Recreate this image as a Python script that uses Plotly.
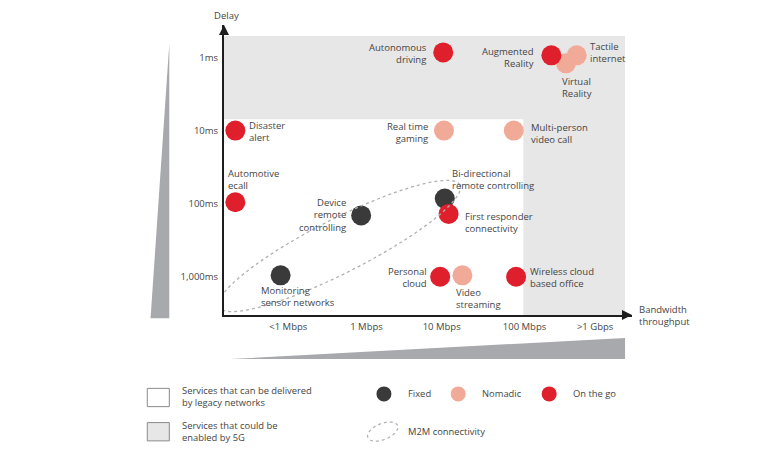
import numpy as np
import plotly.graph_objects as go

# ---------------- data ----------------
services = ["Autonomous driving", "Augmented Reality", "Tactile internet", "Virtual Reality",
            "Disaster alert", "Real time gaming", "Multi-person video call", "Automotive ecall",
            "Device remote controlling", "Bi-directional remote controlling",
            "First responder connectivity", "Monitoring sensor networks", "Personal cloud",
            "Video streaming", "Wireless cloud based office"]
labels = ["Autonomous<br>driving", "Augmented<br>Reality", "Tactile<br>internet", "Virtual<br>Reality",
          "Disaster<br>alert", "Real time<br>gaming", "Multi-person<br>video call", "Automotive<br>ecall",
          "Device<br>remote<br>controlling", "Bi-directional<br>remote controlling",
          "First responder<br>connectivity", "Monitoring<br>sensor networks", "Personal<br>cloud",
          "Video<br>streaming", "Wireless cloud<br>based office"]
# bandwidth on a log-decade index (0 = <1 Mbps ... 4 = >1 Gbps)
bandwidth = [2.02, 3.43, 3.76, 3.62, -0.69, 2.03, 2.94, -0.69, 0.95, 2.04, 2.09, -0.10, 1.98, 2.27, 2.97]
# delay on a log-decade index (0 = 1 ms ... 3 = 1,000 ms)
delay = [-0.07, -0.03, -0.03, 0.08, 1.0, 1.0, 1.0, 1.98, 2.16, 1.93, 2.14, 2.98, 3.0, 2.98, 3.0]
mobility = ["On the go", "On the go", "Nomadic", "Nomadic", "On the go", "Nomadic", "Nomadic",
            "On the go", "Fixed", "Fixed", "On the go", "Fixed", "On the go", "Nomadic", "On the go"]

x_tick_labels = ["<1 Mbps", "1 Mbps", "10 Mbps", "100 Mbps", ">1 Gbps"]
x_tick_pos = [0, 1.02, 2.0, 3.08, 4.0]
y_tick_labels = ["1ms", "10ms", "100ms", "1,000ms"]
y_tick_pos = [0, 1, 2, 3]

# 5G zone boundaries (index units)
zone_delay_limit = 0.845
zone_bandwidth_limit = 3.064

# ---------------- styles ----------------
colors = {"Fixed": "#3a3a3a", "Nomadic": "#f2aa98", "On the go": "#e01f2d"}
FONT = "Open Sans"
TXT = "#454545"
XR = [-0.838, 4.481]
YR = [3.523, -0.445]

# label placement: (xanchor, xshift, yshift)
label_pos = {
    "Autonomous driving": ("right", -14, -1), "Augmented Reality": ("right", -15, -2),
    "Tactile internet": ("left", 11, 3), "Virtual Reality": ("left", -6, -24),
    "Disaster alert": ("left", 12, -1), "Real time gaming": ("right", -14, -2),
    "Multi-person video call": ("left", 15, -3), "Automotive ecall": ("left", -9, 23),
    "Device remote controlling": ("right", -13, 0), "Bi-directional remote controlling": ("left", 5, 19),
    "First responder connectivity": ("left", 14, -9), "Monitoring sensor networks": ("left", -22, -21),
    "Personal cloud": ("right", -11, -1), "Video streaming": ("left", -8, -23),
    "Wireless cloud based office": ("left", 12, -1),
}

fig = go.Figure()

for cat in ["Nomadic", "Fixed", "On the go"]:
    idx = [i for i, m in enumerate(mobility) if m == cat]
    fig.add_trace(go.Scatter(
        x=[bandwidth[i] for i in idx], y=[delay[i] for i in idx],
        mode="markers", name=cat, text=[services[i] for i in idx],
        marker=dict(size=20, color=colors[cat], line=dict(width=0)),
        hovertemplate="%{text}<extra></extra>", showlegend=False))

annotations = []
for s, lab, bx, dy in zip(services, labels, bandwidth, delay):
    xa, xs, ys = label_pos[s]
    annotations.append(dict(x=bx, y=dy, xref="x", yref="y", text=lab, showarrow=False,
                            xanchor=xa, yanchor="middle", xshift=xs, yshift=ys, align=xa,
                            font=dict(family=FONT, size=9.5, color=TXT)))


def ellipse_path(a, b, theta_deg, n=80):
    th = np.radians(theta_deg)
    t = np.linspace(0, 2 * np.pi, n, endpoint=False)
    dx = a * np.cos(th) * np.cos(t) - b * np.sin(th) * np.sin(t)
    dy = a * np.sin(th) * np.cos(t) + b * np.cos(th) * np.sin(t)
    pts = [f"{x:.2f},{y:.2f}" for x, y in zip(dx, dy)]
    return "M" + " L".join(pts) + " Z"


shapes = []
# 5G zone (grey)
shapes.append(dict(type="path", xref="x", yref="y", layer="below", line=dict(width=0),
                   fillcolor="#e7e7e7",
                   path=(f"M{XR[0]},-0.294 L4.39,-0.294 L4.39,{YR[0]} L{zone_bandwidth_limit},{YR[0]} "
                         f"L{zone_bandwidth_limit},{zone_delay_limit} L{XR[0]},{zone_delay_limit} Z")))
# M2M dashed ellipse
shapes.append(dict(type="path", xref="x", yref="y", xsizemode="pixel", ysizemode="pixel",
                   xanchor=0.668, yanchor=2.579, path=ellipse_path(135, 27, 26.9),
                   line=dict(color="#b0b0b0", width=1.3, dash="dot"), fillcolor="rgba(0,0,0,0)"))
# wedges
shapes.append(dict(type="path", xref="paper", yref="paper", line=dict(width=0), fillcolor="#a8a9ad",
                   path="M-0.134,0.937 L-0.180,-0.011 L-0.134,-0.011 Z"))
shapes.append(dict(type="path", xref="paper", yref="paper", line=dict(width=0), fillcolor="#a8a9ad",
                   path="M0.0147,-0.152 L0.983,-0.079 L0.983,-0.152 Z"))
# legend boxes
shapes.append(dict(type="rect", xref="paper", yref="paper", x0=-0.188, x1=-0.134, y0=-0.253, y1=-0.316,
                   line=dict(color="#8a8a8a", width=1), fillcolor="white"))
shapes.append(dict(type="rect", xref="paper", yref="paper", x0=-0.188, x1=-0.134, y0=-0.371, y1=-0.434,
                   line=dict(color="#8a8a8a", width=1), fillcolor="#e7e7e7"))
# legend dots
for cat, px in zip(["Fixed", "Nomadic", "On the go"], [0.392, 0.574, 0.797]):
    shapes.append(dict(type="circle", xref="paper", yref="paper", xsizemode="pixel", ysizemode="pixel",
                       xanchor=px, yanchor=-0.272, x0=-7.5, x1=7.5, y0=-7.5, y1=7.5,
                       fillcolor=colors[cat], line=dict(width=0)))
# legend dashed ellipse
shapes.append(dict(type="path", xref="paper", yref="paper", xsizemode="pixel", ysizemode="pixel",
                   xanchor=0.389, yanchor=-0.402, path=ellipse_path(16, 8, 22),
                   line=dict(color="#b0b0b0", width=1.2, dash="dot"), fillcolor="rgba(0,0,0,0)"))

leg_font = dict(family=FONT, size=9.4, color=TXT)
for txt, lx, ly in [("Services that can be delivered<br>by legacy networks", -0.108, -0.282),
                    ("Services that could be<br>enabled by 5G", -0.108, -0.402),
                    ("Fixed", 0.446, -0.272), ("Nomadic", 0.627, -0.272), ("On the go", 0.850, -0.272),
                    ("M2M connectivity", 0.446, -0.400)]:
    annotations.append(dict(x=lx, y=ly, xref="paper", yref="paper", text=txt, showarrow=False,
                            xanchor="left", yanchor="middle", align="left", font=leg_font))

# axis titles
annotations.append(dict(x=0.0066, y=1.032, xref="paper", yref="paper", text="Delay", showarrow=False,
                        xanchor="center", yanchor="middle", font=dict(family=FONT, size=9.5, color=TXT)))
annotations.append(dict(x=1.012, y=-0.003, xref="paper", yref="paper", text="Bandwidth<br>throughput",
                        showarrow=False, xanchor="left", yanchor="middle", align="left",
                        font=dict(family=FONT, size=9.5, color=TXT)))
# arrow heads
annotations.append(dict(x=1, y=0, xref="paper", yref="paper", ax=-10, ay=0, text="", showarrow=True,
                        arrowhead=2, arrowsize=1, arrowwidth=2, arrowcolor="#1e1e1e"))
annotations.append(dict(x=0, y=1, xref="paper", yref="paper", ax=0, ay=10, text="", showarrow=True,
                        arrowhead=2, arrowsize=1, arrowwidth=2, arrowcolor="#1e1e1e"))

axis_common = dict(showgrid=False, zeroline=False, showline=True, linecolor="#1e1e1e", linewidth=2,
                   ticks="outside", tickcolor="rgba(0,0,0,0)",
                   tickfont=dict(family=FONT, size=9.5, color=TXT), fixedrange=True)

fig.update_layout(
    width=771, height=469,
    margin=dict(l=224, r=139, t=25, b=154),
    paper_bgcolor="white", plot_bgcolor="white",
    xaxis=dict(range=XR, tickvals=x_tick_pos, ticktext=x_tick_labels, ticklen=2, **axis_common),
    yaxis=dict(range=YR, tickvals=y_tick_pos, ticktext=y_tick_labels, ticklen=2, **axis_common),
    shapes=shapes, annotations=annotations, showlegend=False,
    font=dict(family=FONT, color=TXT),
)

fig.write_html("out.html", config={"displayModeBar": False},
               post_script="document.body.style.margin='0';document.body.style.padding='0';")
